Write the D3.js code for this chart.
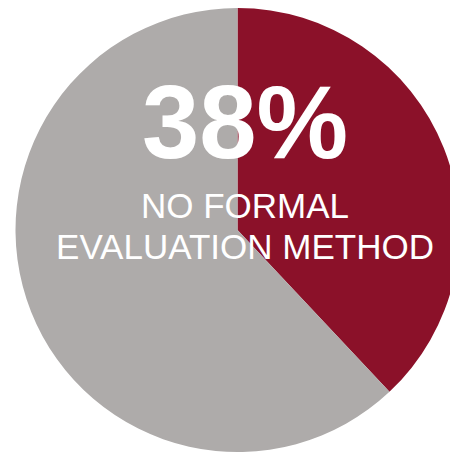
<!DOCTYPE html>
<html>
<head>
<meta charset="utf-8">
<script src="https://cdn.jsdelivr.net/npm/d3@7"></script>
<style>
  html, body { margin: 0; padding: 0; background: #fff; overflow: hidden; }
  svg { display: block; }
</style>
</head>
<body>
<svg></svg>
<script>
const labels = ["No formal evaluation method", "Other"]
const shares = [38, 62]
const colors = ["#8b1129", "#aeabaa"]
const bigText = "38%"
const captionLines = ["NO FORMAL", "EVALUATION METHOD"]

let width = 450
let height = 453
let cx = 237.5
let cy = 230
let radius = 222

let svg = d3.select("svg")
    .attr("width", width)
    .attr("height", height)

const pie = d3.pie().sort(null).value(d => d)
const arc = d3.arc().innerRadius(0).outerRadius(radius)

let g = svg.append("g")
    .attr("transform", "translate(" + cx + "," + cy + ")")

g.selectAll("path")
    .data(pie(shares))
    .enter()
    .append("path")
    .attr("d", arc)
    .attr("fill", (d, i) => colors[i])

svg.append("text")
    .attr("x", 245)
    .attr("y", 158)
    .attr("text-anchor", "middle")
    .attr("fill", "#fff")
    .style("font-family", "'Liberation Sans', Arial, sans-serif")
    .style("font-weight", "bold")
    .style("font-size", "103px")
    .text(bigText)

svg.selectAll(".caption")
    .data(captionLines)
    .enter()
    .append("text")
    .attr("class", "caption")
    .attr("x", 245)
    .attr("y", (d, i) => 218 + i * 41)
    .attr("text-anchor", "middle")
    .attr("fill", "#fff")
    .style("font-family", "'Liberation Sans', Arial, sans-serif")
    .style("font-size", "35px")
    .text(d => d)
</script>
</body>
</html>
